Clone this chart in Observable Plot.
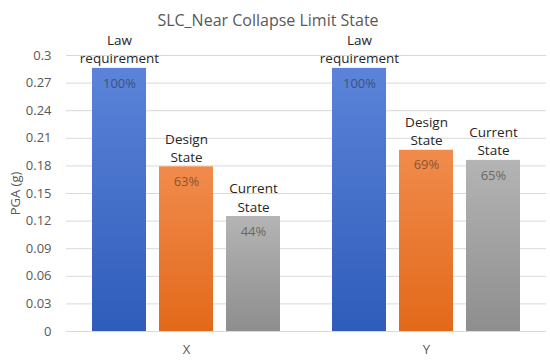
<!DOCTYPE html>
<html>
<head>
<meta charset="utf-8">
<script src="https://cdn.jsdelivr.net/npm/d3@7"></script>
<script src="https://cdn.jsdelivr.net/npm/@observablehq/plot@0.6"></script>
<style>
  body { margin: 0; background: #fff; font-family: "Open Sans", sans-serif; }
  #title { height: 20px; padding-top: 10px; line-height: 20px; text-align: center; font-size: 16px; color: #595959; width: 536px; }
</style>
</head>
<body>
<div id="title">SLC_Near Collapse Limit State</div>
<div id="chart"></div>
<script>
const directions = ["X", "Y"];
const series = ["Law requirement", "Design State", "Current State"];
const seriesLabels = ["Law\nrequirement", "Design\nState", "Current\nState"];
const valuesX = [0.286, 0.179, 0.125];
const valuesY = [0.286, 0.197, 0.186];
const percentX = ["100%", "63%", "44%"];
const percentY = ["100%", "69%", "65%"];
const yTicks = [0, 0.03, 0.06, 0.09, 0.12, 0.15, 0.18, 0.21, 0.24, 0.27, 0.3];
const yLabel = "PGA (g)";
const gradIds = ["gBlue", "gOrange", "gGray"];

const data = [];
directions.forEach((d, di) => {
  const vals = di === 0 ? valuesX : valuesY;
  const pcts = di === 0 ? percentX : percentY;
  series.forEach((s, si) => {
    data.push({dir: d, series: s, label: seriesLabels[si], value: vals[si], pct: pcts[si], grad: gradIds[si]});
  });
});

const chart = Plot.plot({
  width: 550,
  height: 334,
  marginTop: 25,
  marginBottom: 33,
  marginLeft: 66,
  marginRight: 4,
  style: {fontFamily: "Open Sans, sans-serif", overflow: "visible"},
  fx: {domain: directions, paddingInner: 0, paddingOuter: 0, label: null, axis: "bottom", tickSize: 0, tickPadding: 13},
  x: {domain: series, paddingInner: 0.194, paddingOuter: 0.388, axis: null},
  y: {domain: [0, 0.3], axis: "left", ticks: yTicks, tickSize: 0, tickPadding: 15,
      tickFormat: d => String(+d.toFixed(2)), label: yLabel, labelAnchor: "center", labelOffset: 56},
  marks: [
    Plot.ruleY(yTicks, {stroke: "#d9d9d9", strokeWidth: 1}),
    Plot.barY(data, {fx: "dir", x: "series", y: "value", fill: d => `url(#${d.grad})`}),
    Plot.text(data, {fx: "dir", x: "series", y: "value", text: "pct", dy: 15, fill: "#262626", fillOpacity: 0.55, fontSize: 13}),
    Plot.text(data, {fx: "dir", x: "series", y: "value", text: "label", lineAnchor: "bottom", dy: -5, lineHeight: 1.35, fill: "#262626", fontSize: 13.5})
  ]
});

// Style axes
chart.querySelectorAll("g[aria-label^='fx-axis'], g[aria-label^='y-axis']").forEach(g => {
  g.setAttribute("font-size", "13");
  g.setAttribute("fill", "#595959");
  g.querySelectorAll("text").forEach(t => t.setAttribute("fill", "#595959"));
});
chart.querySelectorAll("g[aria-label='y-axis label'] text").forEach(t => {
  t.textContent = yLabel;
  t.setAttribute("font-size", "13");
});

// gradients
const ns = "http://www.w3.org/2000/svg";
const defs = document.createElementNS(ns, "defs");
const grads = {gBlue: ["#5b84d9", "#2f5cba"], gOrange: ["#f18b4c", "#e2691a"], gGray: ["#b4b4b4", "#8e8e8e"]};
for (const [id, [c1, c2]] of Object.entries(grads)) {
  const g = document.createElementNS(ns, "linearGradient");
  g.setAttribute("id", id);
  g.setAttribute("x1", "0"); g.setAttribute("y1", "0"); g.setAttribute("x2", "0"); g.setAttribute("y2", "1");
  const s1 = document.createElementNS(ns, "stop"); s1.setAttribute("offset", "0"); s1.setAttribute("stop-color", c1);
  const s2 = document.createElementNS(ns, "stop"); s2.setAttribute("offset", "1"); s2.setAttribute("stop-color", c2);
  g.appendChild(s1); g.appendChild(s2); defs.appendChild(g);
}
chart.insertBefore(defs, chart.firstChild);

document.getElementById("chart").appendChild(chart);
</script>
</body>
</html>
